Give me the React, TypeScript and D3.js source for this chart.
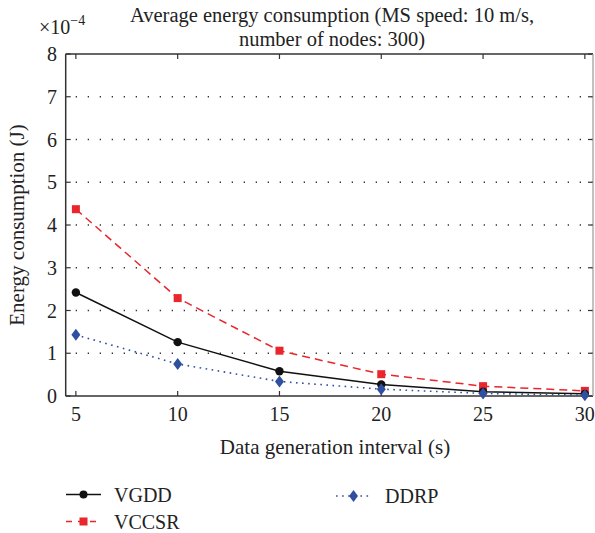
import React from "react";
import * as d3 from "d3";

const xTicks = [5, 10, 15, 20, 25, 30];
const yTicks = [0, 1, 2, 3, 4, 5, 6, 7, 8];
const intervals = [5, 10, 15, 20, 25, 30];
const vgdd = [2.42, 1.26, 0.58, 0.27, 0.1, 0.05];
const vccsr = [4.37, 2.29, 1.06, 0.51, 0.23, 0.12];
const ddrp = [1.43, 0.75, 0.34, 0.16, 0.06, 0.02];

const W = 595;
const H = 533;
const L = 65.7;
const R = 593;
const T = 54;
const B = 396;
const FONT = "'Liberation Serif', 'DejaVu Serif', serif";
const AXC = "#333";

export default function App() {
  const x = d3.scaleLinear().domain([4.5, 30.4]).range([L, R]);
  const y = d3.scaleLinear().domain([0, 8]).range([B, T]);
  const line = (vals: number[]) =>
    d3
      .line<number>()
      .x((_, i) => x(intervals[i]))
      .y((d) => y(d))(vals) || "";

  const red = "#e8262b";
  const blue = "#2f50a0";

  const square = (cx: number, cy: number, k: string) => (
    <rect key={k} x={cx - 4} y={cy - 4} width={8} height={8} fill={red} />
  );
  const diamond = (cx: number, cy: number, k: string) => (
    <path
      key={k}
      d={`M${cx},${cy - 6}L${cx + 4.5},${cy}L${cx},${cy + 6}L${cx - 4.5},${cy}Z`}
      fill={blue}
    />
  );

  return (
    <svg
      width={W}
      height={H}
      style={{ position: "absolute", left: 0, top: 0, background: "#fff" }}
      fontFamily={FONT}
    >
      <rect width={W} height={H} fill="#fff" />
      {/* title */}
      <text x={332} y={22} textAnchor="middle" fontSize={20.5} fill="#222">
        Average energy consumption (MS speed: 10 m/s,
      </text>
      <text x={332} y={46} textAnchor="middle" fontSize={20.5} fill="#222">
        number of nodes: 300)
      </text>
      <text x={39} y={34} fontSize={20} fill="#222">
        ×10
        <tspan dy={-9} fontSize={14}>
          −4
        </tspan>
      </text>

      {/* grid */}
      {yTicks
        .filter((t) => t > 0 && t < 8)
        .map((t) => (
          <line
            key={"g" + t}
            x1={L}
            x2={R}
            y1={y(t)}
            y2={y(t)}
            stroke="#333"
            strokeWidth={1.3}
            strokeDasharray="1.3 10.7"
            strokeDashoffset={-10}
          />
        ))}

      {/* ticks */}
      {xTicks.map((t) => (
        <g key={"xt" + t}>
          <line x1={x(t)} x2={x(t)} y1={B} y2={B - 5} stroke={AXC} strokeWidth={1.2} />
          <line x1={x(t)} x2={x(t)} y1={T} y2={T + 5} stroke={AXC} strokeWidth={1.2} />
          <text x={x(t)} y={421} textAnchor="middle" fontSize={20} fill="#222">
            {t}
          </text>
        </g>
      ))}
      {yTicks.map((t) => (
        <g key={"yt" + t}>
          <line x1={L} x2={L + 5} y1={y(t)} y2={y(t)} stroke={AXC} strokeWidth={1.2} />
          <line x1={R} x2={R - 5} y1={y(t)} y2={y(t)} stroke={AXC} strokeWidth={1.2} />
          <text x={57} y={y(t) + 7} textAnchor="end" fontSize={20} fill="#222">
            {t}
          </text>
        </g>
      ))}

      {/* frame */}
      <line x1={L} x2={L} y1={T} y2={B} stroke={AXC} strokeWidth={1.5} />
      <line x1={L} x2={R} y1={B} y2={B} stroke={AXC} strokeWidth={1.5} />
      <line x1={L} x2={R} y1={T} y2={T} stroke={AXC} strokeWidth={1.5} />
      <line x1={R} x2={R} y1={T} y2={B} stroke="#999" strokeWidth={1.2} />

      {/* series */}
      <path d={line(vccsr)} fill="none" stroke={red} strokeWidth={1.5} strokeDasharray="8 5" />
      <path d={line(vgdd)} fill="none" stroke="#111" strokeWidth={1.5} />
      <path d={line(ddrp)} fill="none" stroke={blue} strokeWidth={1.6} strokeDasharray="1.6 4.5" />
      {vccsr.map((v, i) => square(x(intervals[i]), y(v), "s" + i))}
      {vgdd.map((v, i) => (
        <circle key={"c" + i} cx={x(intervals[i])} cy={y(v)} r={4.2} fill="#111" />
      ))}
      {ddrp.map((v, i) => diamond(x(intervals[i]), y(v), "d" + i))}

      {/* axis labels */}
      <text x={335} y={454} textAnchor="middle" fontSize={21} fill="#222">
        Data generation interval (s)
      </text>
      <text
        transform={`translate(24,225) rotate(-90)`}
        textAnchor="middle"
        fontSize={21}
        fill="#222"
      >
        Energy consumption (J)
      </text>

      {/* legend */}
      <line x1={66} x2={101} y1={494.5} y2={494.5} stroke="#111" strokeWidth={1.5} />
      <circle cx={83.5} cy={494.5} r={4} fill="#111" />
      <text x={114} y={501.5} fontSize={20} fill="#222">VGDD</text>

      <line x1={66} x2={101} y1={521.5} y2={521.5} stroke={red} strokeWidth={1.5} strokeDasharray="6 6" strokeDashoffset={0} />
      {square(83.5, 521.5, "ls")}
      <text x={114} y={528.5} fontSize={20} fill="#222">VCCSR</text>

      <line x1={336} x2={372} y1={496} y2={496} stroke={blue} strokeWidth={1.6} strokeDasharray="1.6 4.5" />
      {diamond(353.5, 496, "ld")}
      <text x={385} y={502.5} fontSize={20} fill="#222">DDRP</text>
    </svg>
  );
}
